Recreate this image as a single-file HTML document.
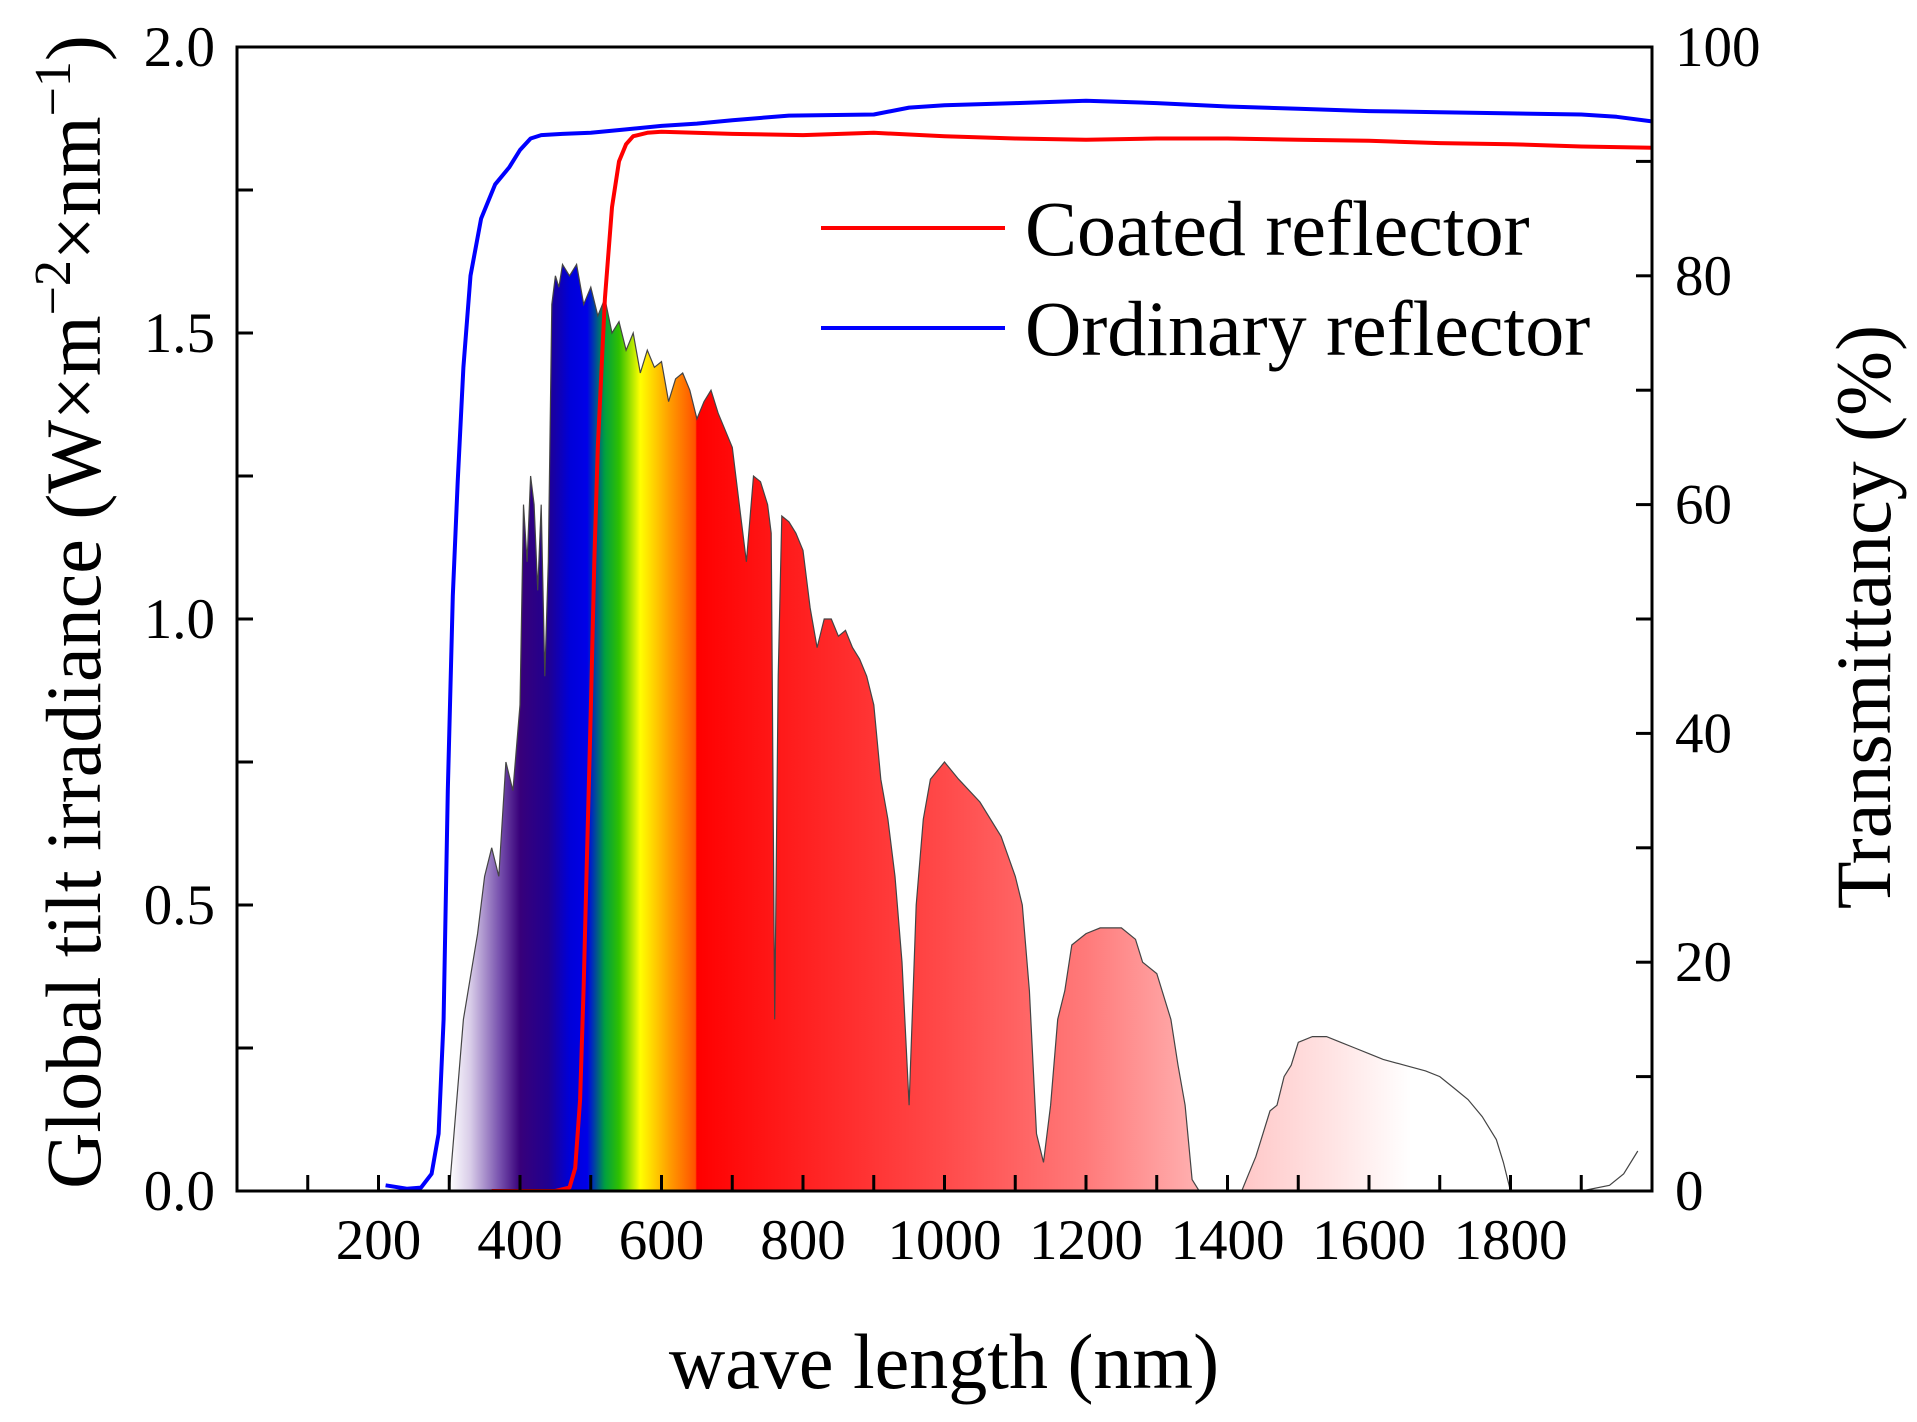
<!DOCTYPE html>
<html><head><meta charset="utf-8"><style>
html,body{margin:0;padding:0;background:#fff;}
svg{display:block;font-family:"Liberation Serif",serif;}
</style></head><body>
<svg id="chart" width="1917" height="1422" viewBox="0 0 1917 1422" xmlns="http://www.w3.org/2000/svg">
<defs>
<linearGradient id="spec" gradientUnits="userSpaceOnUse" x1="237" y1="0" x2="1652" y2="0">
</linearGradient>
<clipPath id="plotclip"><rect x="237" y="47" width="1415" height="1144"/></clipPath>
</defs>
<g id="spectrum-layer" clip-path="url(#plotclip)"></g>
<g id="lines-layer" clip-path="url(#plotclip)"></g>
<rect x="237" y="47" width="1415" height="1144" fill="none" stroke="#000" stroke-width="3"/>
<g id="axes-layer"></g>
<text transform="translate(100,612) rotate(-90)" text-anchor="middle" font-size="78">Global tilt irradiance (W×m<tspan dy="-30" font-size="52">−2</tspan><tspan dy="30">×nm</tspan><tspan dy="-30" font-size="52">−1</tspan><tspan dy="30">)</tspan></text>
<text transform="translate(1890,617) rotate(-90)" text-anchor="middle" font-size="78">Transmittancy (%)</text>
<text x="944" y="1388" text-anchor="middle" font-size="78">wave length (nm)</text>
<g>
<line x1="821" y1="228" x2="1005" y2="228" stroke="#ff0000" stroke-width="4"/>
<text x="1025" y="255" font-size="78">Coated reflector</text>
<line x1="821" y1="328" x2="1005" y2="328" stroke="#0000ff" stroke-width="4"/>
<text x="1025" y="355" font-size="78">Ordinary reflector</text>
</g>
</svg>
<script>
const irrWl = [300,320,340,350,360,370,380,390,400,405,410,415,420,425,430,435,440,445,450,455,460,470,480,490,500,510,520,530,540,550,560,570,580,590,600,610,620,630,640,650,660,670,680,690,700,710,720,730,740,750,755,760,765,770,780,790,800,810,820,830,840,850,860,870,880,890,900,910,920,930,940,950,960,970,980,1000,1020,1050,1080,1100,1110,1120,1130,1140,1150,1160,1170,1180,1200,1220,1250,1270,1280,1300,1320,1330,1340,1350,1360,1420,1430,1440,1450,1460,1470,1480,1490,1500,1520,1540,1560,1580,1600,1620,1650,1680,1700,1720,1740,1760,1780,1790,1800,1900,1940,1960,1980];
const irrVal = [0,0.3,0.45,0.55,0.6,0.55,0.75,0.7,0.85,1.2,1.1,1.25,1.2,1.05,1.2,0.9,1.1,1.55,1.6,1.58,1.62,1.6,1.62,1.55,1.58,1.53,1.56,1.5,1.52,1.47,1.5,1.43,1.47,1.44,1.45,1.38,1.42,1.43,1.4,1.35,1.38,1.4,1.36,1.33,1.3,1.2,1.1,1.25,1.24,1.2,1.15,0.3,0.9,1.18,1.17,1.15,1.12,1.02,0.95,1.0,1.0,0.97,0.98,0.95,0.93,0.9,0.85,0.72,0.65,0.55,0.4,0.15,0.5,0.65,0.72,0.75,0.72,0.68,0.62,0.55,0.5,0.35,0.1,0.05,0.15,0.3,0.35,0.43,0.45,0.46,0.46,0.44,0.4,0.38,0.3,0.22,0.15,0.02,0,0,0.03,0.06,0.1,0.14,0.15,0.2,0.22,0.26,0.27,0.27,0.26,0.25,0.24,0.23,0.22,0.21,0.2,0.18,0.16,0.13,0.09,0.05,0,0,0.01,0.03,0.07];
const ordWl = [210,240,260,275,285,292,298,305,312,320,330,345,365,385,400,415,430,460,500,550,600,650,700,780,900,950,1000,1100,1200,1300,1400,1500,1600,1700,1800,1900,1950,2000];
const ordT = [0.5,0.2,0.3,1.5,5,15,35,52,62,72,80,85,88,89.5,91,92,92.3,92.4,92.5,92.8,93.1,93.3,93.6,94.0,94.1,94.7,94.9,95.1,95.3,95.1,94.8,94.6,94.4,94.3,94.2,94.1,93.9,93.5];
const coatWl = [360,400,450,470,478,485,490,495,500,505,510,520,530,540,550,560,580,600,700,800,900,1000,1100,1200,1300,1400,1500,1600,1700,1800,1900,2000];
const coatT = [0,0,0,0.3,2,8,18,30,42,55,65,78,86,90,91.5,92.2,92.5,92.6,92.4,92.3,92.5,92.2,92.0,91.9,92.0,92.0,91.9,91.8,91.6,91.5,91.3,91.2];
const xTicks = [100,200,300,400,500,600,700,800,900,1000,1100,1200,1300,1400,1500,1600,1700,1800,1900];
const xLabels = [200,400,600,800,1000,1200,1400,1600,1800];
const leftTicks = [0.25,0.5,0.75,1.0,1.25,1.5,1.75];
const leftLabels = ["0.0","0.5","1.0","1.5","2.0"];
const rightTicks = [10,20,30,40,50,60,70,80,90];
const rightLabels = ["0","20","40","60","80","100"];

const L=237,R=1652,T=47,B=1191;
const xS=v=>L+(v/2000)*(R-L);
const yL=v=>B-(v/2)*(B-T);
const yR=v=>B-(v/100)*(B-T);
const NS="http://www.w3.org/2000/svg";
function mk(tag,attrs){const e=document.createElementNS(NS,tag);for(const k in attrs)e.setAttribute(k,attrs[k]);return e;}

// gradient stops
const grad=document.getElementById('spec');
const stops=[[300,'#ffffff'],[330,'#d8cce8'],[370,'#7a55b0'],[400,'#38007a'],[440,'#200090'],[470,'#0000d8'],[495,'#0000e8'],[520,'#00a040'],[540,'#30c000'],[570,'#ffff00'],[610,'#ffa000'],[648,'#ff5000'],[650,'#ff0000'],[800,'#ff2020'],[1000,'#ff4a4a'],[1200,'#ff7a7a'],[1340,'#ffaaaa'],[1440,'#ffcccc'],[1550,'#ffe4e4'],[1660,'#ffffff']];
stops.forEach(s=>{const st=mk('stop',{offset:(s[0]/2000),'stop-color':s[1]});grad.appendChild(st);});

// spectrum
const spec=document.getElementById('spectrum-layer');
let d='M'+xS(irrWl[0])+','+yL(0);
irrWl.forEach((w,i)=>{d+=' L'+xS(w).toFixed(1)+','+yL(irrVal[i]).toFixed(1);});
d+=' L'+xS(irrWl[irrWl.length-1])+','+yL(0)+' Z';
const area=mk('path',{d:d,fill:'url(#spec)'});


spec.appendChild(area);
let d2='';
irrWl.forEach((w,i)=>{d2+=(i?' L':'M')+xS(w).toFixed(1)+','+yL(irrVal[i]).toFixed(1);});
const outl=mk('path',{d:d2,fill:'none',stroke:'#444',"stroke-width":1.2});


spec.appendChild(outl);

// lines
const ll=document.getElementById('lines-layer');
function line(ws,vs,color,name){let p='';ws.forEach((w,i)=>{p+=(i?' L':'M')+xS(w).toFixed(1)+','+yR(vs[i]).toFixed(1);});
const e=mk('path',{d:p,fill:'none',stroke:color,'stroke-width':4,'stroke-linejoin':'round'});


ll.appendChild(e);}
line(ordWl,ordT,'#0000ff','ordinary-reflector-line');
line(coatWl,coatT,'#ff0000','coated-reflector-line');

// axes
const ax=document.getElementById('axes-layer');
xTicks.forEach(v=>{const t=mk('line',{x1:xS(v),x2:xS(v),y1:B,y2:B-16,stroke:'#000','stroke-width':3});


ax.appendChild(t);});
xLabels.forEach(v=>{const t=mk('text',{x:xS(v),y:1259,'text-anchor':'middle','font-size':57});t.textContent=v;


ax.appendChild(t);});
leftTicks.forEach(v=>{const t=mk('line',{x1:L,x2:L+16,y1:yL(v),y2:yL(v),stroke:'#000','stroke-width':3});


ax.appendChild(t);});
leftLabels.forEach(v=>{const t=mk('text',{x:215,y:yL(+v)+19,'text-anchor':'end','font-size':57});t.textContent=v;


ax.appendChild(t);});
rightTicks.forEach(v=>{const t=mk('line',{x1:R,x2:R-16,y1:yR(v),y2:yR(v),stroke:'#000','stroke-width':3});


ax.appendChild(t);});
rightLabels.forEach(v=>{const t=mk('text',{x:1675,y:yR(+v)+19,'text-anchor':'start','font-size':57});t.textContent=v;


ax.appendChild(t);});
</script>
</body></html>
